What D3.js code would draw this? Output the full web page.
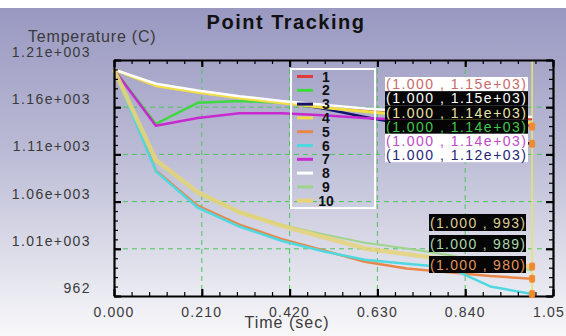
<!DOCTYPE html>
<html>
<head>
<meta charset="utf-8">
<script src="https://cdn.jsdelivr.net/npm/d3@7"></script>
<style>
  body { margin: 0; background: #fff; }
  text { font-family: "Liberation Sans", Arial, sans-serif; }
</style>
</head>
<body>
<div id="vis_1"></div>
<script>
// time samples (sec)
var times = [0, 0.1, 0.2, 0.3, 0.4, 0.5, 0.6, 0.7, 0.8, 0.9, 1.0];

// temperature per tracked point (C)
var s1  = [1200, 1184, 1177, 1171, 1166, 1162, 1158, 1155, 1152, 1150, 1148];
var s2  = [1200, 1143, 1165, 1167, 1165, 1161, 1156, 1152, 1148, 1144, 1140];
var s3  = [1200, 1184, 1177, 1171, 1166, 1159, 1150, 1142, 1134, 1127, 1122];
var s4  = [1200, 1183, 1176, 1170, 1165, 1160, 1156, 1152, 1149, 1146, 1144];
var s5  = [1200, 1094, 1057, 1037, 1022, 1010, 998, 991, 987, 983, 980];
var s6  = [1200, 1093, 1055, 1035, 1020, 1009, 1000, 996, 992, 972, 964];
var s7  = [1200, 1141, 1149, 1154, 1154, 1152, 1149, 1147, 1145, 1143, 1141];
var s8  = [1200, 1185, 1178, 1172, 1167, 1163, 1159, 1156, 1153, 1151, 1150];
var s9  = [1200, 1104, 1070, 1050, 1037, 1027, 1018, 1012, 1005, 997, 989];
var s10 = [1200, 1105, 1071, 1050, 1036, 1024, 1012, 1006, 1000, 996, 993];

var seriesNames = ["1", "2", "3", "4", "5", "6", "7", "8", "9", "10"];
var seriesColors = ["#e03a3a", "#3fd83f", "#14146e", "#f2dc4a", "#e8874a",
                    "#4fd8e0", "#c82ad0", "#ffffff", "#9fd48c", "#e6d477"];
var seriesWidths = [2.5, 2.5, 2.5, 3, 2.5, 2.5, 2.5, 2.5, 2, 4.5];

var xTickValues = [0, 0.21, 0.42, 0.63, 0.84, 1.05];
var xTickLabels = ["0.000", "0.210", "0.420", "0.630", "0.840", "1.05"];
var yTickValues = [962, 1011.6, 1061.2, 1110.8, 1160.4, 1210];
var yTickLabels = ["962", "1.01e+003", "1.06e+003", "1.11e+003", "1.16e+003", "1.21e+003"];

var cursorTime = 1.0;
// series (index) that show a marker on the cursor
var markerSeries = [1, 2, 4, 5, 9];
// cursor readouts: series index, text
var upperReadouts = [[0, "(1.000 , 1.15e+03)"], [7, "(1.000 , 1.15e+03)"], [3, "(1.000 , 1.14e+03)"],
                     [1, "(1.000 , 1.14e+03)"], [6, "(1.000 , 1.14e+03)"], [2, "(1.000 , 1.12e+03)"]];
var lowerReadouts = [[9, "(1.000 , 993)"], [8, "(1.000 , 989)"], [4, "(1.000 , 980)"]];

var allSeries = [s1, s2, s3, s4, s5, s6, s7, s8, s9, s10];

var W = 566, H = 336;
var margin = {top: 60, right: 13, bottom: 40, left: 114},
    width = W - margin.left - margin.right,
    height = H - margin.top - margin.bottom;

var svg = d3.select("#vis_1").append("svg")
    .attr("width", W)
    .attr("height", H);

// background gradient
var grad = svg.append("defs").append("linearGradient")
    .attr("id", "bg").attr("x1", 0).attr("y1", 0).attr("x2", 0).attr("y2", 1);
grad.append("stop").attr("offset", "0%").attr("stop-color", "#9998c1");
grad.append("stop").attr("offset", "45%").attr("stop-color", "#bcbcd6");
grad.append("stop").attr("offset", "100%").attr("stop-color", "#f8f8fa");

svg.append("rect").attr("width", W).attr("height", H).attr("fill", "#ffffff");
svg.append("rect").attr("y", 8).attr("width", W).attr("height", H - 8).attr("fill", "url(#bg)");

var g = svg.append("g")
    .attr("transform", "translate(" + margin.left + "," + margin.top + ")");

var x = d3.scaleLinear().domain([0, 1.05]).range([0, width]);
var y = d3.scaleLinear().domain([962, 1210]).range([height, 0]);

// grid lines (inner majors only)
g.append("g").selectAll("line")
    .data(xTickValues.slice(1, -1))
    .enter().append("line")
    .attr("x1", function(d) { return x(d); }).attr("x2", function(d) { return x(d); })
    .attr("y1", 0).attr("y2", height)
    .attr("stroke", "#4cc65a").attr("stroke-width", 1).attr("stroke-dasharray", "5,4");
g.append("g").selectAll("line")
    .data(yTickValues.slice(1, -1))
    .enter().append("line")
    .attr("y1", function(d) { return y(d); }).attr("y2", function(d) { return y(d); })
    .attr("x1", 0).attr("x2", width)
    .attr("stroke", "#4cc65a").attr("stroke-width", 1).attr("stroke-dasharray", "5,4");

// cursor line
g.append("line")
    .attr("x1", x(cursorTime)).attr("x2", x(cursorTime))
    .attr("y1", 0).attr("y2", height)
    .attr("stroke", "#e4e46a").attr("stroke-width", 1.6);

// series lines
var line = d3.line()
    .x(function(d, i) { return x(times[i]); })
    .y(function(d) { return y(d); });

allSeries.forEach(function(s, i) {
    g.append("path")
        .datum(s)
        .attr("fill", "none")
        .attr("stroke", seriesColors[i])
        .attr("stroke-width", seriesWidths[i])
        .attr("stroke-opacity", i == 9 ? 0.85 : 1)
        .attr("stroke-linejoin", "round")
        .attr("d", line);
});

// axes: minor ticks then majors, all pointing inward
var xMinor = d3.range(0, 26).map(function(i) { return i * 0.042; });
var yMinor = d3.range(0, 26).map(function(i) { return 962 + i * 9.92; });

function noLabels(a) { return a.tickFormat(""); }

var axes = [
    [d3.axisBottom(x), "translate(0," + height + ")", xMinor, xTickValues],
    [d3.axisTop(x), "translate(0,0)", xMinor, xTickValues],
    [d3.axisLeft(y), "translate(0,0)", yMinor, yTickValues],
    [d3.axisRight(y), "translate(" + width + ",0)", yMinor, yTickValues]
];
axes.forEach(function(a) {
    var minorAx = g.append("g").attr("transform", a[1])
        .call(noLabels(a[0].tickValues(a[2]).tickSize(-4).tickSizeOuter(0)));
    minorAx.selectAll(".tick line").attr("stroke", "#000").attr("stroke-width", 1.2);
    var majorAx = g.append("g").attr("transform", a[1])
        .call(noLabels(a[0].tickValues(a[3]).tickSize(-7).tickSizeOuter(0)));
    majorAx.selectAll(".tick line").attr("stroke", "#000").attr("stroke-width", 2.2);
    majorAx.select(".domain").attr("stroke", "#000").attr("stroke-width", 2.2);
    minorAx.select(".domain").remove();
});

// tick labels
g.append("g").selectAll("text")
    .data(xTickValues)
    .enter().append("text")
    .attr("x", function(d, i) { return x(d) + (i == xTickValues.length - 1 ? -4 : 0); })
    .attr("y", height + 21)
    .attr("text-anchor", "middle")
    .attr("font-size", 14)
    .attr("letter-spacing", 1.2)
    .attr("fill", "#3a3a3a")
    .text(function(d, i) { return xTickLabels[i]; });

g.append("g").selectAll("text")
    .data(yTickValues)
    .enter().append("text")
    .attr("x", -23)
    .attr("y", function(d) { return y(d) - 3; })
    .attr("text-anchor", "end")
    .attr("font-size", 14)
    .attr("letter-spacing", 1.4)
    .attr("fill", "#3a3a3a")
    .text(function(d, i) { return yTickLabels[i]; });

// titles
svg.append("text")
    .attr("x", 286).attr("y", 29)
    .attr("text-anchor", "middle")
    .attr("font-size", 20).attr("font-weight", "bold")
    .attr("letter-spacing", 1.5)
    .attr("fill", "#111")
    .text("Point Tracking");

svg.append("text")
    .attr("x", 28).attr("y", 42)
    .attr("font-size", 16)
    .attr("letter-spacing", 0.8)
    .attr("fill", "#3a3a3a")
    .text("Temperature (C)");

svg.append("text")
    .attr("x", 287).attr("y", 328)
    .attr("text-anchor", "middle")
    .attr("font-size", 16)
    .attr("letter-spacing", 1)
    .attr("fill", "#3a3a3a")
    .text("Time (sec)");

// legend
var legend = svg.append("g").attr("transform", "translate(291,69)");
legend.append("rect")
    .attr("width", 84).attr("height", 139)
    .attr("fill", "none").attr("stroke", "#ffffff").attr("stroke-width", 2);
var item = legend.selectAll(".legend")
    .data(seriesNames)
    .enter().append("g")
    .attr("class", "legend")
    .attr("transform", function(d, i) { return "translate(0," + (7.5 + i * 13.8) + ")"; });
item.append("line")
    .attr("x1", 6).attr("x2", 22)
    .attr("stroke", function(d, i) { return seriesColors[i]; })
    .attr("stroke-width", function(d, i) { return i == 9 ? 4 : 3; });
item.append("text")
    .attr("x", 35).attr("y", 5)
    .attr("text-anchor", "middle")
    .attr("font-size", 14).attr("font-weight", "bold")
    .attr("fill", "#111")
    .text(function(d) { return d; });

// cursor markers
g.append("g").selectAll("rect")
    .data(markerSeries)
    .enter().append("rect")
    .attr("x", x(cursorTime) - 3)
    .attr("y", function(i) { var s = allSeries[i]; return y(s[s.length - 1]) - 4; })
    .attr("width", 6).attr("height", 8).attr("rx", 2)
    .attr("fill", "#f08a2a");

// readout labels
var darkBg = {0: false, 7: true, 3: true, 1: true, 6: false, 2: false, 9: true, 8: true, 4: true};
var textCol = {0: "#c86a6a", 7: "#ffffff", 3: "#e9e2a8", 1: "#3fc84a", 6: "#c04ac8", 2: "#25257a",
               9: "#dccb95", 8: "#a8d8a8", 4: "#e4955a"};

function readout(list, x0, y0, rowH, gap, w, fitLen) {
    var r = svg.append("g").selectAll("g")
        .data(list)
        .enter().append("g")
        .attr("transform", function(d, i) { return "translate(" + x0 + "," + (y0 + i * (rowH + gap)) + ")"; });
    r.append("rect")
        .attr("width", w).attr("height", rowH)
        .attr("fill", function(d) { return darkBg[d[0]] ? "#050505" : "#ffffff"; });
    r.append("text")
        .attr("x", 1).attr("y", rowH / 2 + 5)
        .attr("font-size", 14)
        .attr("textLength", fitLen).attr("lengthAdjust", "spacing")
        .attr("fill", function(d) { return textCol[d[0]]; })
        .text(function(d) { return d[1]; });
}
readout(upperReadouts, 385, 77, 14.2, 0, 143, 140);
readout(lowerReadouts, 429, 214, 17, 4, 97, 95);
</script>
</body>
</html>
